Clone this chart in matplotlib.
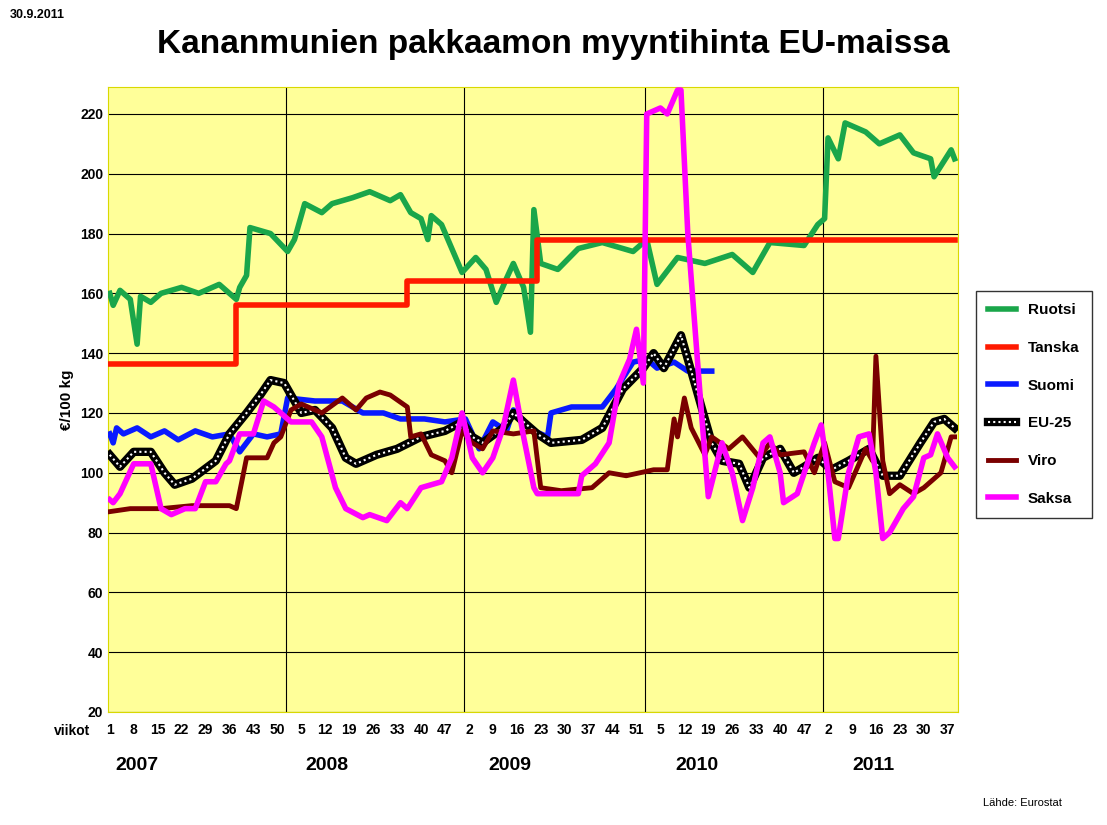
import matplotlib
matplotlib.use("Agg")
import matplotlib.pyplot as plt
from matplotlib.lines import Line2D

plt.rcParams["font.family"] = "Liberation Sans"

# week index 0 = 2007 week 1
ruotsi_w = [0, 1, 3, 6, 8, 9, 12, 15, 21, 26, 32, 37, 38, 40, 41, 47, 52, 54, 57, 62, 65, 71, 76, 82, 85,
            88, 91, 93, 94, 97, 100, 103, 107, 110, 113, 116, 118, 121, 123, 124, 126, 131, 137, 144, 153,
            157, 160, 166, 174, 182, 188, 193, 203, 207, 209, 210, 213, 215, 221, 225, 231, 235, 240, 241, 246, 247]
ruotsi_v = [160, 156, 161, 158, 143, 159, 157, 160, 162, 160, 163, 158, 162, 166, 182, 180, 174, 178, 190, 187, 190,
            192, 194, 191, 193, 187, 185, 178, 186, 183, 175, 167, 172, 168, 157, 165, 170, 162, 147, 188, 170,
            168, 175, 177, 174, 178, 163, 172, 170, 173, 167, 177, 176, 183, 185, 212, 205, 217, 214, 210, 213,
            207, 205, 199, 208, 205]

tanska_w = [0, 37, 37, 87, 87, 125, 125, 247]
tanska_v = [136.5, 136.5, 156, 156, 164, 164, 178, 178]

suomi_w = [0, 1, 2, 4, 8, 12, 16, 20, 25, 30, 35, 38, 42, 46, 50, 52, 60, 68, 74, 80, 85, 92, 98, 104,
           108, 112, 116, 118, 124, 128, 129, 135, 144, 148, 153, 157, 160, 165, 169, 176]
suomi_v = [113, 110, 115, 113, 115, 112, 114, 111, 114, 112, 113, 107, 113, 112, 113, 125, 124, 124, 120,
           120, 118, 118, 117, 118, 108, 117, 114, 121, 114, 112, 120, 122, 122, 128, 137, 138, 135, 137, 134, 134]

eu_w = [0, 3, 7, 12, 16, 19, 24, 31, 35, 40, 44, 47, 51, 56, 60, 65, 69, 72, 78, 84, 91, 98, 103, 106, 109,
        115, 118, 125, 129, 138, 144, 150, 156, 159, 162, 167, 171, 176, 179, 184, 187, 191, 196, 200, 203,
        207, 211, 216, 222, 226, 231, 237, 241, 244, 247]
eu_v = [106, 102, 107, 107, 100, 96, 98, 104, 113, 120, 126, 131, 130, 120, 121, 115, 105, 103, 106, 108,
        112, 114, 117, 112, 110, 115, 120, 113, 110, 111, 115, 128, 135, 140, 135, 146, 130, 110, 104, 103,
        95, 105, 108, 100, 102, 105, 101, 104, 108, 99, 99, 110, 117, 118, 115]

viro_w = [0, 6, 15, 24, 35, 37, 40, 46, 48, 50, 53, 56, 62, 68, 72, 75, 79, 82, 87, 88, 91, 94, 98, 100,
          103, 106, 109, 112, 118, 124, 126, 132, 141, 146, 151, 159, 163, 165, 166, 168, 170, 174, 176,
          181, 185, 190, 193, 196, 203, 206, 209, 212, 216, 221, 223, 224, 226, 228, 231, 235, 238, 243, 246, 247]
viro_v = [87, 88, 88, 89, 89, 88, 105, 105, 110, 112, 121, 123, 120, 125, 121, 125, 127, 126, 122, 112, 113,
          106, 104, 100, 114, 110, 108, 114, 113, 114, 95, 94, 95, 100, 99, 101, 101, 118, 112, 125, 115, 106,
          112, 108, 112, 105, 110, 106, 107, 100, 110, 97, 95, 108, 104, 139, 104, 93, 96, 93, 95, 100, 112, 112]

saksa_w = [0, 1, 3, 7, 12, 15, 18, 22, 25, 28, 31, 34, 35, 38, 42, 45, 48, 53, 59, 62, 66, 69, 74, 76, 81,
           85, 87, 91, 97, 100, 103, 106, 109, 112, 115, 118, 121, 124, 125, 137, 138, 142, 146, 149, 152,
           154, 156, 157, 161, 163, 166, 167, 169, 173, 175, 179, 182, 185, 188, 191, 193, 196, 197, 201,
           206, 208, 210, 212, 213, 216, 219, 222, 224, 226, 228, 232, 235, 238, 240, 242, 245, 247]
saksa_v = [91, 90, 93, 103, 103, 88, 86, 88, 88, 97, 97, 103, 104, 113, 113, 124, 122, 117, 117, 112, 95, 88,
           85, 86, 84, 90, 88, 95, 97, 105, 120, 105, 100, 105, 115, 131, 112, 95, 93, 93, 99, 103, 110, 130,
           138, 148, 130, 220, 222, 220, 228, 228, 180, 120, 92, 110, 100, 84, 95, 110, 112, 100, 90, 93, 110,
           116, 100, 78, 78, 100, 112, 113, 100, 78, 80, 88, 92, 105, 106, 113, 105, 102]

tick_labels = ["1", "8", "15", "22", "29", "36", "43", "50", "5", "12", "19", "26", "33", "40", "47",
               "2", "9", "16", "23", "30", "37", "44", "51", "5", "12", "19", "26", "33", "40", "47",
               "2", "9", "16", "23", "30", "37"]
years = ["2007", "2008", "2009", "2010", "2011"]
year_starts = [0, 52, 104, 157, 209]

fig = plt.figure(figsize=(11.07, 8.25), dpi=100)
ax = fig.add_axes([0.0976, 0.137, 0.7678, 0.7575])
ax.set_facecolor("#ffff99")
for s in ax.spines.values():
    s.set_color("#d9d900")

ax.set_xlim(-0.5, 248)
ax.set_ylim(20, 229)
ax.set_yticks(range(20, 230, 20))
ax.yaxis.grid(True, color="black", lw=0.8)
ax.set_axisbelow(True)
for ys in year_starts[1:]:
    ax.axvline(ys - 0.5, color="black", lw=0.8, zorder=1)

ax.plot(ruotsi_w, ruotsi_v, color="#1aa64a", lw=4, label="Ruotsi", zorder=3)
ax.plot(tanska_w, tanska_v, color="#ff1a00", lw=4, label="Tanska", zorder=3)
ax.plot(suomi_w, suomi_v, color="#0a1aff", lw=4, label="Suomi", zorder=3)
ax.plot(eu_w, eu_v, color="black", lw=6, zorder=4)
ax.plot(eu_w, eu_v, color="white", lw=1.5, ls=(0, (1, 1.5)), zorder=4)
ax.plot(viro_w, viro_v, color="#7a0000", lw=3.5, label="Viro", zorder=5)
ax.plot(saksa_w, saksa_v, color="#ff00ff", lw=4, label="Saksa", zorder=6)

eu_handle = (Line2D([0], [0], color="black", lw=6),
             Line2D([0], [0], color="white", lw=1.5, ls=(0, (1, 1.5))))
handles, labels = ax.get_legend_handles_labels()
handles.insert(3, eu_handle)
labels.insert(3, "EU-25")
ax.legend(handles, labels, loc="center left", bbox_to_anchor=(1.012, 0.492),
          frameon=True, fancybox=False, edgecolor="black", labelspacing=1.55,
          handlelength=1.8, borderpad=0.8, prop={"weight": "bold", "size": 11})

ax.set_xticks([i * 7 for i in range(len(tick_labels))])
ax.set_xticklabels(tick_labels, fontsize=10, fontweight="bold")
ax.tick_params(axis="x", length=0, pad=8)
ax.tick_params(axis="y", length=0, labelsize=10)
for t in ax.get_yticklabels():
    t.set_fontweight("bold")
ax.set_ylabel("€/100 kg", fontweight="bold", fontsize=11)

fig.text(72 / 1107, 1 - 731 / 825, "viikot", fontsize=10, fontweight="bold", ha="center", va="center")
year_px = [137, 327, 510, 697, 873]
for yl, px in zip(years, year_px):
    fig.text(px / 1107, 1 - 766 / 825, yl, fontsize=14, fontweight="bold", ha="center", va="center")

fig.text(0.5, 1 - 44 / 825, "Kananmunien pakkaamon myyntihinta EU-maissa",
         fontsize=24, fontweight="bold", ha="center", va="center")
fig.text(10 / 1107, 1 - 15 / 825, "30.9.2011", fontsize=9, fontweight="bold", va="center")
fig.text(1062 / 1107, 1 - 803 / 825, "Lähde: Eurostat", fontsize=8, ha="right", va="center")

fig.savefig("out.png", dpi=100)
